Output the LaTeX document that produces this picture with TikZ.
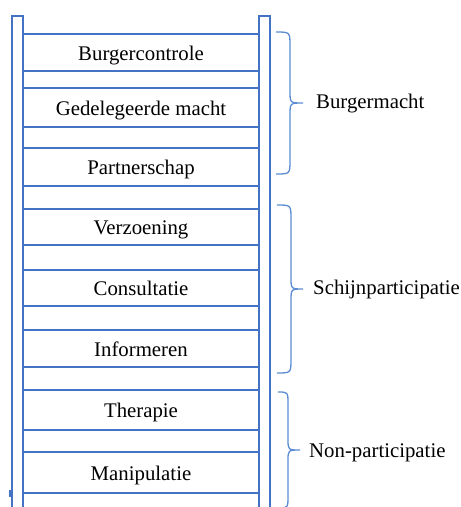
\documentclass[tikz,border=0pt]{standalone}
\usepackage{fontspec}
\setmainfont{Liberation Serif}
\definecolor{ladder}{RGB}{68,114,196}
\definecolor{bracec}{RGB}{91,140,210}
\begin{document}
\begin{tikzpicture}[x=1pt,y=-1pt,
  rail/.style={draw=ladder,line width=1.3pt,fill=white},
  rung/.style={draw=ladder,line width=1.3pt,minimum width=236pt,inner sep=0pt,text height=15pt,text depth=0pt,font=\fontsize{20.8}{24}\selectfont},
  bracepath/.style={draw=bracec,line width=1.3pt},
  lab/.style={anchor=base west,inner sep=0pt,font=\fontsize{20.8}{24}\selectfont}]
\useasboundingbox (0,0) rectangle (461,507);
\clip (0,0) rectangle (461,507);
% rails
\draw[rail] (12,16) rectangle (23,520);
\draw[rail] (259,16) rectangle (270,520);
% small mark
\fill[ladder] (9,490) rectangle (12,497);
% rungs
\node[rung,minimum height=37pt] (r1) at (141,52.5) {Burgercontrole};
\node[rung,minimum height=39pt] (r2) at (141,107.5) {Gedelegeerde macht};
\node[rung,minimum height=38pt] (r3) at (141,167) {Partnerschap};
\node[rung,minimum height=36pt] (r4) at (141,227) {Verzoening};
\node[rung,minimum height=36pt] (r5) at (141,288) {Consultatie};
\node[rung,minimum height=37pt] (r6) at (141,348.5) {Informeren};
\node[rung,minimum height=40pt] (r7) at (141,410) {Therapie};
\node[rung,minimum height=41pt] (r8) at (141,472.5) {Manipulatie};
% braces
\draw[bracepath] (276,32) .. controls (290,32) .. (290,46) -- (290,91)
  .. controls (290,103) .. (303,103) .. controls (290,103) .. (290,115)
  -- (290,160) .. controls (290,174) .. (276,174);
\draw[bracepath] (277,205) .. controls (291,205) .. (291,219) -- (291,277)
  .. controls (291,289) .. (303,289) .. controls (291,289) .. (291,301)
  -- (291,359) .. controls (291,373) .. (277,373);
\draw[bracepath] (278,392) .. controls (288,392) .. (288,404) -- (288,439)
  .. controls (288,450) .. (300,450) .. controls (288,450) .. (288,461)
  -- (288,496) .. controls (288,508) .. (278,508);
% labels
\node[lab] (l1) at (316,108) {Burgermacht};
\node[lab] (l2) at (313,294) {Schijnparticipatie};
\node[lab] (l3) at (309,457) {Non-participatie};
\end{tikzpicture}
\end{document}
